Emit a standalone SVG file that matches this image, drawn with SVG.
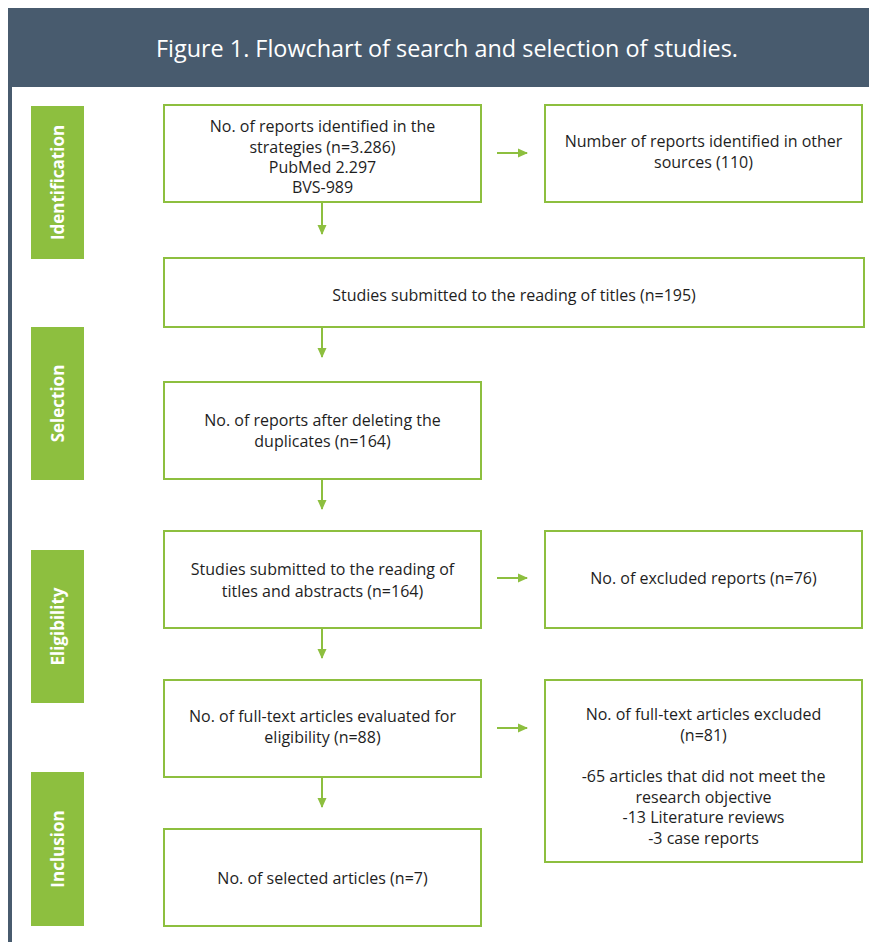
<svg xmlns="http://www.w3.org/2000/svg" width="869" height="942" viewBox="0 0 869 942">
<defs>
<style>
.box{fill:#fff;stroke:#8dbf3f;stroke-width:2}
.side{fill:#8dbf3f}
.t{font-family:"Open Sans","Liberation Sans",sans-serif;font-size:16px;fill:#1e1e1e;text-anchor:middle}
.s{font-family:"Open Sans","Liberation Sans",sans-serif;font-size:17px;font-weight:bold;fill:#fff;text-anchor:middle}
.c{stroke:#8dbf3f;stroke-width:2;fill:none;marker-end:url(#ah)}
</style>
<marker id="ah" markerWidth="10" markerHeight="10" refX="9" refY="5" orient="auto" markerUnits="userSpaceOnUse">
<path d="M0,0.5 L10,5 L0,9.5 Z" fill="#8dbf3f"/>
</marker>
</defs>
<rect width="869" height="942" fill="#fff"/>
<g id="header">
<rect x="8" y="8" width="861" height="79" fill="#485b6e"/>
<rect x="8" y="87" width="4" height="855" fill="#485b6e"/>
<text x="447" y="57" style="font-family:'Open Sans','Liberation Sans',sans-serif;font-size:23.4px;fill:#fff;text-anchor:middle">Figure 1. Flowchart of search and selection of studies.</text>
</g>
<g id="stage-identification"><rect class="side" x="31" y="106" width="53" height="153"/><text class="s" transform="translate(64,182.5) rotate(-90)">Identification</text></g>
<g id="stage-selection"><rect class="side" x="31" y="327" width="53" height="153"/><text class="s" transform="translate(64,403.5) rotate(-90)">Selection</text></g>
<g id="stage-eligibility"><rect class="side" x="31" y="550" width="53" height="153"/><text class="s" transform="translate(64,626.5) rotate(-90)">Eligibility</text></g>
<g id="stage-inclusion"><rect class="side" x="31" y="772" width="53" height="154"/><text class="s" transform="translate(64,849) rotate(-90)">Inclusion</text></g>

<g id="n-identified"><rect class="box" x="164" y="105" width="317" height="97"/>
<text class="t" x="322.5" y="132">No. of reports identified in the</text>
<text class="t" x="322.5" y="153">strategies (n=3.286)</text>
<text class="t" x="322.5" y="173">PubMed 2.297</text>
<text class="t" x="322.5" y="193">BVS-989</text></g>
<g id="n-other"><rect class="box" x="545" y="105" width="317" height="97"/>
<text class="t" x="703.5" y="147">Number of reports identified in other</text>
<text class="t" x="703.5" y="168">sources (110)</text></g>
<g id="n-titles"><rect class="box" x="164" y="258" width="700" height="69"/>
<text class="t" x="514" y="301">Studies submitted to the reading of titles (n=195)</text></g>
<g id="n-duplicates"><rect class="box" x="164" y="382" width="317" height="97"/>
<text class="t" x="322.5" y="426">No. of reports after deleting the</text>
<text class="t" x="322.5" y="447">duplicates (n=164)</text></g>
<g id="n-abstracts"><rect class="box" x="164" y="531" width="317" height="97"/>
<text class="t" x="322.5" y="575">Studies submitted to the reading of</text>
<text class="t" x="322.5" y="597">titles and abstracts (n=164)</text></g>
<g id="n-excluded"><rect class="box" x="545" y="531" width="317" height="97"/>
<text class="t" x="703.5" y="584">No. of excluded reports (n=76)</text></g>
<g id="n-fulltext"><rect class="box" x="164" y="680" width="317" height="97"/>
<text class="t" x="322.5" y="722">No. of full-text articles evaluated for</text>
<text class="t" x="322.5" y="743">eligibility (n=88)</text></g>
<g id="n-fulltext-excluded"><rect class="box" x="545" y="680" width="317" height="182"/>
<text class="t" x="703.5" y="720">No. of full-text articles excluded</text>
<text class="t" x="703.5" y="741">(n=81)</text>
<text class="t" x="703.5" y="782">-65 articles that did not meet the</text>
<text class="t" x="703.5" y="803">research objective</text>
<text class="t" x="703.5" y="823">-13 Literature reviews</text>
<text class="t" x="703.5" y="844">-3 case reports</text></g>
<g id="n-selected"><rect class="box" x="164" y="829" width="317" height="97"/>
<text class="t" x="322.5" y="884">No. of selected articles (n=7)</text></g>

<g id="connectors">
<line class="c" x1="497" y1="153" x2="527" y2="153"/>
<line class="c" x1="322" y1="203" x2="322" y2="234"/>
<line class="c" x1="322" y1="328" x2="322" y2="357"/>
<line class="c" x1="322" y1="480" x2="322" y2="509"/>
<line class="c" x1="497" y1="578" x2="527" y2="578"/>
<line class="c" x1="322" y1="629" x2="322" y2="658"/>
<line class="c" x1="497" y1="728" x2="527" y2="728"/>
<line class="c" x1="322" y1="778" x2="322" y2="807"/>
</g>
</svg>
